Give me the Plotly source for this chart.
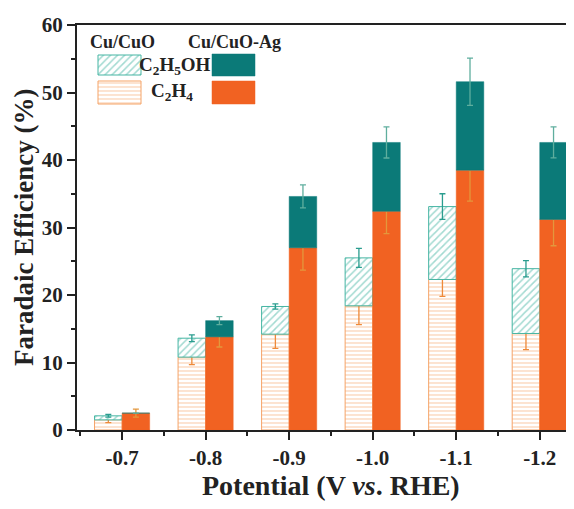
import plotly.graph_objects as go

potentials = ["-0.7", "-0.8", "-0.9", "-1.0", "-1.1", "-1.2"]
cu_c2h4 = [1.5, 10.8, 14.2, 18.4, 22.3, 14.3]
cu_c2h5oh = [0.6, 2.8, 4.1, 7.1, 10.8, 9.6]
cu_c2h4_err = [0.4, 1.1, 2.1, 2.8, 2.5, 2.4]
cu_c2h5oh_err = [0.2, 0.5, 0.4, 1.4, 1.9, 1.2]
ag_c2h4 = [2.5, 13.8, 27.0, 32.4, 38.5, 31.2]
ag_c2h5oh = [0.0, 2.4, 7.6, 10.2, 13.1, 11.4]
ag_c2h4_err = [0.6, 1.5, 3.3, 3.3, 4.6, 3.9]
ag_c2h5oh_err = [None, 0.6, 1.7, 2.3, 3.5, 2.3]

ORANGE = "#f16222"
TEAL = "#0b7a78"
ORANGE_LIGHT = "#f5a367"
TEAL_LIGHT = "#45b5a3"
FONT = "Liberation Serif"

xs = list(range(len(potentials)))
cu_base2 = cu_c2h4
ag_base2 = ag_c2h4

fig = go.Figure()

def err(arr, color):
    return dict(type="data", array=arr, color=color, thickness=1.3, width=3)

fig.add_trace(go.Bar(
    x=xs, y=cu_c2h4, offsetgroup="cu",
    marker=dict(color="white", line=dict(color=ORANGE_LIGHT, width=1),
                pattern=dict(shape="-", fgcolor=ORANGE_LIGHT, bgcolor="white", size=4, solidity=0.3)),
    error_y=err(cu_c2h4_err, "#ee8a3a"), showlegend=False))
fig.add_trace(go.Bar(
    x=xs, y=cu_c2h5oh, base=cu_base2, offsetgroup="cu",
    marker=dict(color="white", line=dict(color=TEAL_LIGHT, width=1),
                pattern=dict(shape="/", fgcolor=TEAL_LIGHT, bgcolor="white", size=5, solidity=0.3)),
    error_y=err(cu_c2h5oh_err, "#2a9d8f"), showlegend=False))
fig.add_trace(go.Bar(
    x=xs, y=ag_c2h4, offsetgroup="ag",
    marker=dict(color=ORANGE, line=dict(color=ORANGE, width=0.5)),
    error_y=err(ag_c2h4_err, "#e3973c"), showlegend=False))
fig.add_trace(go.Bar(
    x=xs, y=ag_c2h5oh, base=ag_base2, offsetgroup="ag",
    marker=dict(color=TEAL, line=dict(color=TEAL, width=0.5)),
    error_y=err(ag_c2h5oh_err, "#5fae9e"), showlegend=False))

# legend swatches on an overlay axis measured in page pixels (x right, y up from x-axis)
leg_x = [119.5, 233.5, 119.5, 233.5]
leg_base = [355, 354, 326, 326]
leg_h = [20, 22, 23, 23]
leg_styles = [
    dict(color="white", line=dict(color=TEAL_LIGHT, width=1),
         pattern=dict(shape="/", fgcolor=TEAL_LIGHT, bgcolor="white", size=5, solidity=0.3)),
    dict(color=TEAL, line=dict(color=TEAL, width=0.5)),
    dict(color="white", line=dict(color=ORANGE_LIGHT, width=1),
         pattern=dict(shape="-", fgcolor=ORANGE_LIGHT, bgcolor="white", size=4, solidity=0.3)),
    dict(color=ORANGE, line=dict(color=ORANGE, width=0.5)),
]
for i in range(4):
    fig.add_trace(go.Bar(x=[leg_x[i]], y=[leg_h[i]], base=[leg_base[i]], width=[43],
                         offsetgroup="leg", marker=leg_styles[i], xaxis="x2", yaxis="y2",
                         showlegend=False, hoverinfo="skip"))

tickfont = dict(family=FONT, size=21, color="#222", weight="bold")
fig.update_layout(
    width=566, height=501,
    margin=dict(l=69, r=0, t=17, b=79),
    paper_bgcolor="white", plot_bgcolor="white",
    barmode="group", bargap=0.34, bargroupgap=0,
    xaxis=dict(range=[-0.54, 5.41], tickvals=xs, ticktext=potentials, automargin=False,
               showline=True, linecolor="#222", linewidth=2, mirror=True,
               ticks="outside", ticklen=8, tickwidth=2, tickcolor="#222",
               minor=dict(tick0=0.5, dtick=1, ticks="outside", ticklen=4, tickwidth=2, tickcolor="#222"),
               showgrid=False, zeroline=False, tickfont=tickfont),
    yaxis=dict(range=[0, 60], dtick=10, showline=True, linecolor="#222", linewidth=2, automargin=False,
               ticks="outside", ticklen=8, tickwidth=2, tickcolor="#222",
               minor=dict(dtick=5, ticks="outside", ticklen=4, tickwidth=2, tickcolor="#222"),
               showgrid=False, zeroline=False, tickfont=tickfont),
    xaxis2=dict(domain=[0, 1], range=[77, 574], visible=False, anchor="y2", overlaying="x"),
    yaxis2=dict(domain=[0, 1], range=[0, 405], visible=False, anchor="x2", overlaying="y"),
)

def px(xp, yp):
    return (xp - 77) / 497, (430 - yp) / 405

ann = [("<b>Cu/CuO</b>", 122, 42, 18), ("<b>Cu/CuO-Ag</b>", 234, 42, 18),
       ("<b>C<sub>2</sub>H<sub>5</sub>OH</b>", 175, 66, 19), ("<b>C<sub>2</sub>H<sub>4</sub></b>", 172, 92, 19),
       ("<b>Potential (V <i>vs</i>. RHE)</b>", 331, 486, 28)]
for t, xp, yp, fs in ann:
    ax, ay = px(xp, yp)
    fig.add_annotation(text=t, x=ax, y=ay, xref="paper", yref="paper", showarrow=False,
                       font=dict(family=FONT, size=fs, color="#222"), xanchor="center", yanchor="middle")
ax, ay = px(24, 228)
fig.add_annotation(text="<b>Faradaic Efficiency (%)</b>", x=ax, y=ay, xref="paper", yref="paper",
                   showarrow=False, textangle=-90, font=dict(family=FONT, size=27, color="#222"),
                   xanchor="center", yanchor="middle")

fig.write_html("out.html")
